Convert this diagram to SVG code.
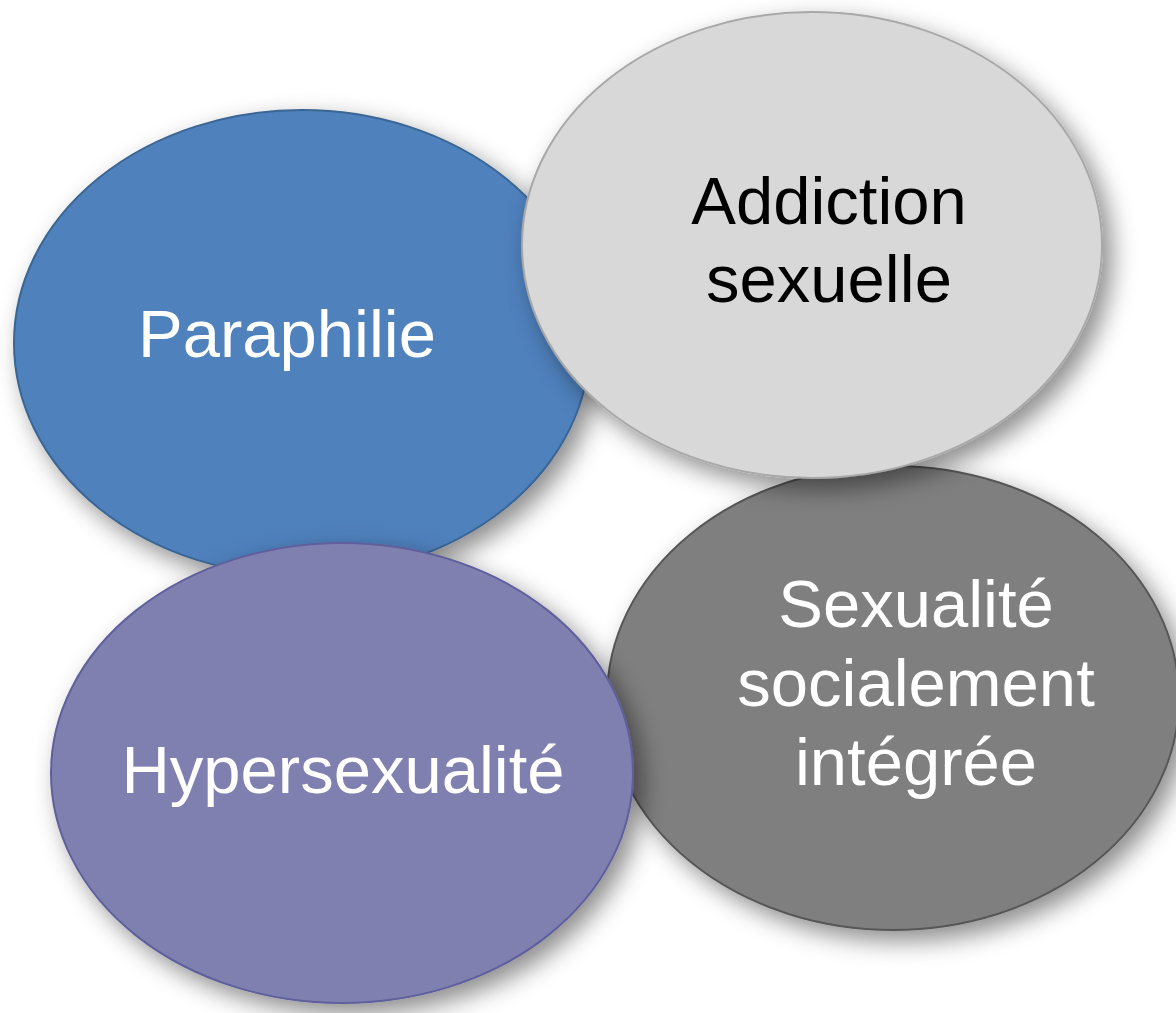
<svg xmlns="http://www.w3.org/2000/svg" width="1176" height="1013" viewBox="0 0 1176 1013">
  <defs>
    <filter id="shadow" x="-20%" y="-20%" width="145%" height="145%">
      <feDropShadow dx="9" dy="10" stdDeviation="12" flood-color="#000" flood-opacity="0.45"/>
    </filter>
  </defs>
  <style>
    .disc { filter: url(#shadow); stroke-width: 2; }
    .label { font-family: "Liberation Sans", Arial, sans-serif; font-size: 67px; text-anchor: middle; }
    .light { fill: #ffffff; }
    .dark { fill: #000000; }
  </style>
  <rect width="1176" height="1013" fill="#ffffff"/>

  <g id="node-paraphilie">
    <ellipse class="disc" cx="302" cy="343" rx="288" ry="233" fill="#4F81BD" stroke="#3B6593"/>
    <text class="label light" x="287" y="357">Paraphilie</text>
  </g>

  <g id="node-sexualite-integree">
    <ellipse class="disc" cx="893" cy="698" rx="286" ry="232" fill="#7F7F7F" stroke="#575757"/>
    <text class="label light" x="916" y="627">Sexualité</text>
    <text class="label light" x="916" y="706">socialement</text>
    <text class="label light" x="916" y="785">intégrée</text>
  </g>

  <g id="node-addiction">
    <ellipse class="disc" cx="812" cy="245" rx="290" ry="233" fill="#D8D8D8" stroke="#A8A8A8"/>
    <text class="label dark" x="829" y="224">Addiction</text>
    <text class="label dark" x="829" y="302">sexuelle</text>
  </g>

  <g id="node-hypersexualite">
    <ellipse class="disc" cx="342" cy="773" rx="291" ry="230" fill="#8080B0" stroke="#5E5E9C"/>
    <text class="label light" x="343" y="793">Hypersexualité</text>
  </g>

  <g id="connectors"></g>
</svg>
